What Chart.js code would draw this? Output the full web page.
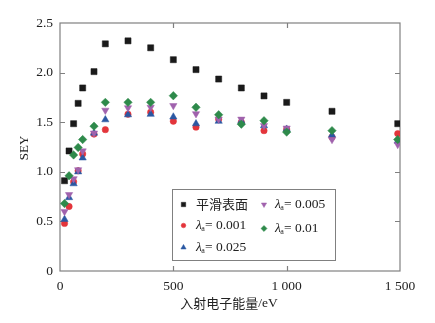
<!DOCTYPE html>
<html>
<head>
<meta charset="utf-8">
<script src="https://cdn.jsdelivr.net/npm/chart.js@4/dist/chart.umd.min.js"></script>
<style>
  html, body { margin: 0; padding: 0; background: #fff; }
  #wrap { width: 435px; height: 323px; }
</style>
</head>
<body>
<div id="wrap"><canvas id="c" width="435" height="323"></canvas></div>
<script>
// Incident electron energy (eV)
const energy = [20, 40, 60, 80, 100, 150, 200, 300, 400, 500, 600, 700, 800, 900, 1000, 1200, 1490];

// SEY for the smooth surface and for rough surfaces with different λa
const seySmooth = [0.91, 1.21, 1.485, 1.69, 1.845, 2.01, 2.29, 2.32, 2.25, 2.13, 2.03, 1.935, 1.845, 1.765, 1.70, 1.61, 1.485];
const sey0001   = [0.48, 0.65, 0.90, 1.01, 1.18, 1.38, 1.425, 1.58, 1.60, 1.51, 1.45, 1.53, 1.50, 1.415, 1.43, 1.35, 1.385];
const sey0025   = [0.52, 0.74, 0.88, 1.00, 1.14, 1.39, 1.525, 1.575, 1.58, 1.553, 1.485, 1.51, 1.51, 1.465, 1.43, 1.37, 1.31];
const sey0005   = [0.60, 0.77, 0.93, 1.02, 1.21, 1.39, 1.62, 1.645, 1.65, 1.667, 1.585, 1.53, 1.53, 1.465, 1.44, 1.325, 1.275];
const sey001    = [0.68, 0.96, 1.17, 1.245, 1.325, 1.46, 1.70, 1.70, 1.70, 1.767, 1.65, 1.575, 1.48, 1.515, 1.40, 1.415, 1.325];

const xTicks = [0, 500, 1000, 1500];
const xTickLabels = ['0', '500', '1 000', '1 500'];
const yTicks = [0, 0.5, 1.0, 1.5, 2.0, 2.5];
const yTickLabels = ['0', '0.5', '1.0', '1.5', '2.0', '2.5'];

const SERIF = '"Liberation Serif", "DejaVu Serif", serif';
const CJK = '"Noto Sans CJK SC", sans-serif';
const AXIS = '#808080';

const colors = {
  smooth: '#1a1a1a',
  l0001: '#e3353b',
  l0025: '#2b58a3',
  l0005: '#a062ad',
  l001: '#2e8a4b'
};

function pts(ys) { return energy.map((e, i) => ({ x: e, y: ys[i] })); }

function ds(label, ys, color, style, radius, rotation, order) {
  return {
    label, data: pts(ys), showLine: false,
    pointStyle: style, pointRadius: radius, pointHoverRadius: radius,
    pointRotation: rotation || 0,
    backgroundColor: color, borderColor: color, pointBorderWidth: 0.5,
    order
  };
}

const datasets = [
  ds('平滑表面', seySmooth, colors.smooth, 'rect', 4.3, 0, 5),
  ds('λa=0.001', sey0001, colors.l0001, 'circle', 3.2, 0, 4),
  ds('λa=0.025', sey0025, colors.l0025, 'triangle', 4.2, 0, 3),
  ds('λa=0.005', sey0005, colors.l0005, 'triangle', 4.2, 180, 2),
  ds('λa=0.01', sey001, colors.l001, 'rectRot', 4.2, 0, 1)
];

// frame with inward ticks on all four sides, axis titles and legend
const decor = {
  id: 'decor',
  beforeDatasetsDraw(chart) {
    const { ctx, chartArea: a, scales: { x, y } } = chart;
    ctx.save();
    ctx.strokeStyle = AXIS;
    ctx.lineWidth = 1.2;
    ctx.strokeRect(a.left, a.top, a.right - a.left, a.bottom - a.top);
    const tl = 5;
    ctx.beginPath();
    xTicks.forEach(v => {
      const px = Math.round(x.getPixelForValue(v)) + 0.5;
      if (v > 0 && v < 1500) {
        ctx.moveTo(px, a.bottom); ctx.lineTo(px, a.bottom - tl);
        ctx.moveTo(px, a.top); ctx.lineTo(px, a.top + tl);
      }
    });
    yTicks.forEach(v => {
      const py = Math.round(y.getPixelForValue(v)) + 0.5;
      if (v > 0 && v < 2.5) {
        ctx.moveTo(a.left, py); ctx.lineTo(a.left + tl, py);
        ctx.moveTo(a.right, py); ctx.lineTo(a.right - tl, py);
      }
    });
    ctx.stroke();
    ctx.restore();
  },
  afterDraw(chart) {
    const { ctx } = chart;
    ctx.save();
    ctx.fillStyle = '#222';
    // y title
    ctx.save();
    ctx.translate(25, 148);
    ctx.rotate(-Math.PI / 2);
    ctx.font = '13px ' + SERIF;
    ctx.textAlign = 'center';
    ctx.textBaseline = 'middle';
    ctx.fillText('SEY', 0, 0);
    ctx.restore();
    // x title
    ctx.textBaseline = 'middle';
    const cjk = '入射电子能量';
    const tail = '/eV';
    ctx.font = '13px ' + CJK;
    const w1 = ctx.measureText(cjk).width;
    ctx.font = '13.5px ' + SERIF;
    const w2 = ctx.measureText(tail).width;
    let sx = 229 - (w1 + w2) / 2;
    ctx.textAlign = 'left';
    ctx.font = '13px ' + CJK;
    ctx.fillText(cjk, sx, 303);
    ctx.font = '13.5px ' + SERIF;
    ctx.fillText(tail, sx + w1, 303);

    // legend
    const L = 172.5, T = 189.5, R = 335.5, B = 260.5;
    ctx.fillStyle = '#fff';
    ctx.fillRect(L, T, R - L, B - T);
    ctx.strokeStyle = AXIS;
    ctx.lineWidth = 1;
    ctx.strokeRect(L, T, R - L, B - T);

    const items = [
      { ds: 0, mx: 183.5, tx: 196, ty: 204, text: null },
      { ds: 1, mx: 183.5, tx: 196, ty: 225, text: '0.001' },
      { ds: 2, mx: 183.5, tx: 196, ty: 247, text: '0.025' },
      { ds: 3, mx: 264, tx: 275, ty: 204, text: '0.005' },
      { ds: 4, mx: 264, tx: 275, ty: 228, text: '0.01' }
    ];
    items.forEach(it => {
      const d = datasets[it.ds];
      ctx.fillStyle = d.backgroundColor;
      ctx.strokeStyle = d.borderColor;
      ctx.lineWidth = 0.5;
      Chart.helpers.drawPoint(ctx, {
        pointStyle: d.pointStyle, radius: d.pointRadius * 0.72,
        rotation: d.pointRotation, borderWidth: 0.5
      }, it.mx, it.ty + 0.5);
      ctx.fillStyle = '#222';
      ctx.textAlign = 'left';
      ctx.textBaseline = 'middle';
      if (it.text === null) {
        ctx.font = '13px ' + CJK;
        ctx.fillText(d.label, it.tx, it.ty);
      } else {
        let px = it.tx;
        ctx.font = 'italic 13.5px ' + SERIF;
        ctx.fillText('λ', px, it.ty);
        px += ctx.measureText('λ').width;
        ctx.font = '8px ' + SERIF;
        ctx.fillText('a', px - 0.5, it.ty + 4);
        px += ctx.measureText('a').width - 0.5;
        ctx.font = '13.5px ' + SERIF;
        ctx.fillText('= ' + it.text, px, it.ty);
      }
    });
    ctx.restore();
  }
};

new Chart(document.getElementById('c'), {
  type: 'scatter',
  data: { datasets },
  options: {
    responsive: false,
    animation: false,
    devicePixelRatio: 1,
    layout: { padding: { top: 23, right: 35, left: 0, bottom: 0 } },
    plugins: { legend: { display: false }, tooltip: { enabled: false } },
    scales: {
      x: {
        type: 'linear', min: 0, max: 1500,
        afterFit(s) { s.height = 52; },
        afterBuildTicks(s) { s.ticks = xTicks.map(v => ({ value: v })); },
        grid: { display: false, drawTicks: false },
        border: { display: false },
        ticks: {
          padding: 7, color: '#222', maxRotation: 0,
          font: { family: SERIF, size: 13.5 },
          callback: (v) => xTickLabels[xTicks.indexOf(v)]
        }
      },
      y: {
        type: 'linear', min: 0, max: 2.5,
        afterFit(s) { s.width = 60; },
        afterBuildTicks(s) { s.ticks = yTicks.map(v => ({ value: v })); },
        grid: { display: false, drawTicks: false },
        border: { display: false },
        ticks: {
          padding: 7, color: '#222',
          font: { family: SERIF, size: 13.5 },
          callback: (v) => yTickLabels[yTicks.indexOf(v)]
        }
      }
    }
  },
  plugins: [decor]
});
</script>
</body>
</html>
